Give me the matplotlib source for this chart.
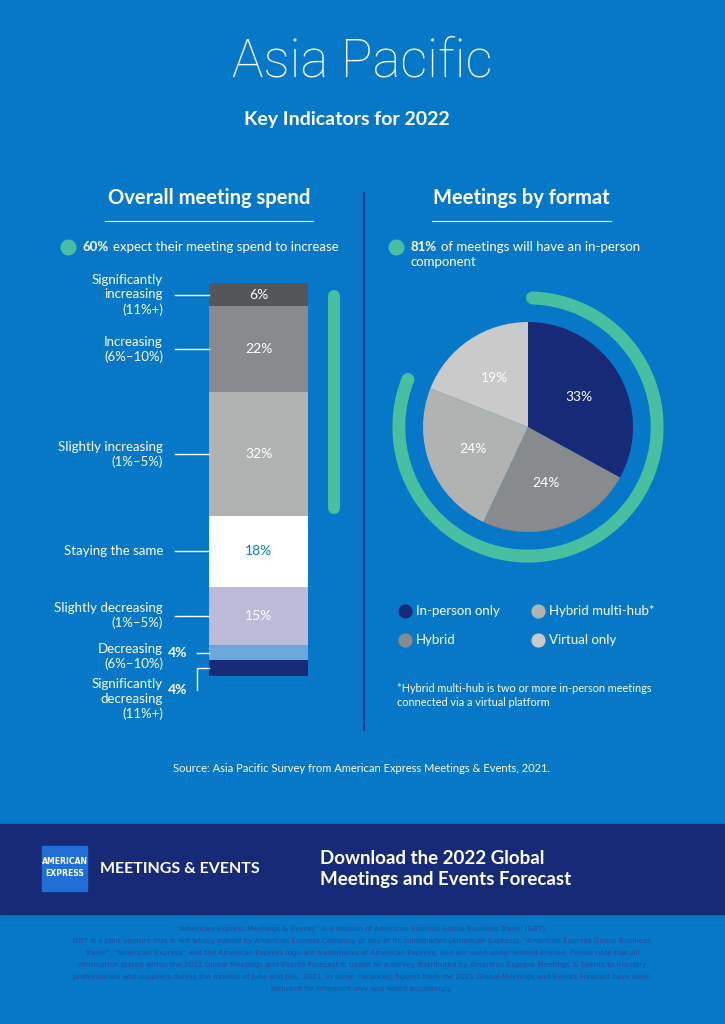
import matplotlib
matplotlib.use("Agg")
import matplotlib.pyplot as plt
import numpy as np

# ---- data ----
spend_labels = ["Significantly\nincreasing\n(11%+)", "Increasing\n(6%–10%)",
                "Slightly increasing\n(1%–5%)", "Staying the same",
                "Slightly decreasing\n(1%–5%)", "Decreasing\n(6%–10%)",
                "Significantly\ndecreasing\n(11%+)"]
spend_values = [6, 22, 32, 18, 15, 4, 4]
spend_colors = ["#545659", "#888B8D", "#B1B3B3", "#FFFFFF", "#BCBBD9", "#6AA7DC", "#172A78"]
spend_increase = 60

format_labels = ["In-person only", "Hybrid", "Hybrid multi-hub*", "Virtual only"]
format_values = [33, 24, 24, 19]
format_colors = ["#172A78", "#888B8D", "#B1B3B3", "#CACACA"]
in_person_share = 81

BLUE = "#0778C8"
NAVY = "#172A78"
GREEN = "#47BFA0"
FONT = ["Lato", "DejaVu Sans"]
plt.rcParams["font.family"] = FONT

fig = plt.figure(figsize=(7.25, 10.24), dpi=100)
fig.patch.set_facecolor(BLUE)

# full-page axes in pixel units for text and decoration
bg = fig.add_axes([0, 0, 1, 1])
bg.set_xlim(0, 725)
bg.set_ylim(1024, 0)
bg.axis("off")

renderer = fig.canvas.get_renderer()


def mixed(ax, x, y, bold, rest, size, color="white"):
    t = ax.text(x, y, bold, fontsize=size, weight="bold", color=color, va="center")
    w = t.get_window_extent(renderer=renderer).width
    ax.text(x + w + 4, y, rest, fontsize=size, color=color, va="center")


bg.text(362, 62, "Asia Pacific", fontsize=38, weight="light", color="white", ha="center", va="center",
        family=["Roboto", "DejaVu Sans"])
bg.text(347, 120, "Key Indicators for 2022", fontsize=14, weight="bold", color="white", ha="center", va="center")

bg.text(209, 198, "Overall meeting spend", fontsize=14.5, weight="bold", color="white", ha="center", va="center")
bg.plot([105, 313], [221, 221], color="white", lw=0.8)
bg.text(521, 198, "Meetings by format", fontsize=14.5, weight="bold", color="white", ha="center", va="center")
bg.plot([432, 611], [221, 221], color="white", lw=0.8)
bg.plot([364, 364], [193, 730], color="#1B3A8C", lw=1.5)

bg.scatter([68], [247], s=110, color=GREEN, zorder=3)
mixed(bg, 83, 247, f"{spend_increase}%", "expect their meeting spend to increase", 9.5)
bg.scatter([396], [247], s=110, color=GREEN, zorder=3)
mixed(bg, 411, 247, f"{in_person_share}%", "of meetings will have an in-person", 9.5)
bg.text(411, 262, "component", fontsize=9.5, color="white", va="center")

# ---- stacked bar ----
total = sum(spend_values)
bax = fig.add_axes([40 / 725, (1024 - 676) / 1024, 320 / 725, 393 / 1024])
bax.set_xlim(40, 360)
bax.set_ylim(total, 0)
bax.axis("off")
bax.patch.set_alpha(0)
bottoms = np.cumsum([0] + spend_values[:-1])
bax.bar([258.5] * len(spend_values), spend_values, width=99, bottom=bottoms,
        color=spend_colors, linewidth=0)
centers = bottoms + np.array(spend_values) / 2
lab_kw = dict(fontsize=9.5, color="white", ha="right", va="center", linespacing=1.25, clip_on=False)
for i, (lab, v, c) in enumerate(zip(spend_labels, spend_values, centers)):
    if v >= 6:
        tc = BLUE if spend_colors[i] == "#FFFFFF" else "white"
        bax.text(258.5, c, f"{v}%", fontsize=10, color=tc, ha="center", va="center")
        bax.text(163, c, lab, **lab_kw)
        bax.plot([175, 209], [c, c], color="white", lw=1)
    elif i == len(spend_values) - 2:
        bax.text(163, c + 1, lab, **lab_kw)
        bax.text(168, c, f"{v}%", fontsize=10, weight="bold", color="white", va="center")
        bax.plot([197, 209], [c, c], color="white", lw=1)
    else:
        ly = total + 3.6
        bax.text(163, ly + 2.3, lab, **lab_kw)
        bax.text(168, ly, f"{v}%", fontsize=10, weight="bold", color="white", va="center", clip_on=False)
        bax.plot([209, 197, 197], [c, c, ly], color="white", lw=1, clip_on=False)
# green bracket for increasing share
bax.plot([334, 334], [3.3, spend_increase - 2.3], color=GREEN, lw=8.6,
         solid_capstyle="round")

# ---- pie ----
pax = fig.add_axes([381 / 725, (1024 - 427 - 147) / 1024, 294 / 725, 294 / 1024])
pax.patch.set_alpha(0)
wedges, texts, autotexts = pax.pie(format_values, colors=format_colors, startangle=90,
                                   counterclock=False, radius=1, autopct="%d%%",
                                   pctdistance=0.56,
                                   wedgeprops=dict(linewidth=0),
                                   textprops=dict(color="white", fontsize=10))
theta = np.radians(np.linspace(88, 90 - 3.6 * in_person_share, 200))
pax.plot(1.23 * np.cos(theta), 1.23 * np.sin(theta), color=GREEN, lw=9.3,
         solid_capstyle="round")
pax.set_xlim(-1.4, 1.4)
pax.set_ylim(-1.4, 1.4)
pax.set_aspect("equal")
pax.axis("off")

# legend
leg_pos = [(405, 611), (405, 640), (538, 611), (538, 640)]
for (lx, ly), lab, col in zip(leg_pos, format_labels, format_colors):
    bg.scatter([lx], [ly], s=85, color=col, zorder=3)
    bg.text(lx + 11, ly, lab, fontsize=9.5, color="white", va="center")

bg.text(397, 689, "*Hybrid multi-hub is two or more in-person meetings", fontsize=7.8, color="white", va="center")
bg.text(397, 703, "connected via a virtual platform", fontsize=7.8, color="white", va="center")

bg.text(362, 769, "Source: Asia Pacific Survey from American Express Meetings & Events, 2021.",
        fontsize=8, color="white", ha="center", va="center")

# ---- footer ----
bg.add_patch(plt.Rectangle((0, 824), 725, 90, color=NAVY, zorder=1))
bg.add_patch(plt.Rectangle((42, 846), 45, 45, color="#1F6FD6", zorder=2))
bg.text(64.5, 862, "AMERICAN", fontsize=5.6, weight="bold", color="white", ha="center", va="center", zorder=3,
        family=["Liberation Sans Narrow", "DejaVu Sans"])
bg.text(64.5, 874, "EXPRESS", fontsize=5.6, weight="bold", color="white", ha="center", va="center", zorder=3,
        family=["Liberation Sans Narrow", "DejaVu Sans"])
bg.text(100, 869, "MEETINGS & EVENTS", fontsize=11.5, weight="bold", color="white", va="center", zorder=3)
bg.text(320, 858, "Download the 2022 Global", fontsize=13.5, weight="bold", color="white", va="center", zorder=3)
bg.text(320, 880, "Meetings and Events Forecast", fontsize=13.5, weight="bold", color="white", va="center", zorder=3)

disclaimer = [
    "“American Express Meetings & Events” is a division of American Express Global Business Travel (GBT).",
    "GBT is a joint venture that is not wholly owned by American Express Company or any of its subsidiaries (American Express). “American Express Global Business",
    "Travel”, “American Express” and the American Express logo are trademarks of American Express, and are used under limited license. Please note that all",
    "information stated within the 2022 Global Meetings and Events Forecast is based on a survey distributed by American Express Meetings & Events to industry",
    "professionals and suppliers during the months of June and July, 2021. In some instances, figures from the 2021 Global Meetings and Events Forecast have been",
    "included for reference only and noted accordingly.",
]
for k, line in enumerate(disclaimer):
    bg.text(362, 929 + k * 12, line, fontsize=5.2, color="#1F4E9E", ha="center", va="center",
            family=["Liberation Sans Narrow", "DejaVu Sans"])

fig.savefig("out.png", dpi=100, facecolor=BLUE)
